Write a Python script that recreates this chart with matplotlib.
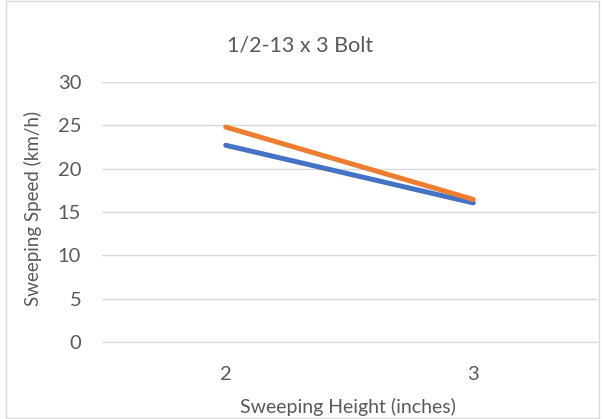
import matplotlib.pyplot as plt
from matplotlib.patches import Rectangle

plt.rcParams['font.family'] = ['Lato', 'DejaVu Sans']

heights = ['2', '3']
series_blue = [22.7, 16.05]
series_orange = [24.8, 16.45]
y_ticks = [0, 5, 10, 15, 20, 25, 30]

W, H = 605, 419
fig = plt.figure(figsize=(W / 100, H / 100), dpi=100)
ax = fig.add_axes([102 / W, 1 - 342 / H, 495 / W, 260 / H])

x = range(len(heights))
ax.plot(x, series_blue, color='#4472C4', lw=3.6, solid_capstyle='round')
ax.plot(x, series_orange, color='#ED7D31', lw=3.6, solid_capstyle='round')

ax.set_xlim(-0.5, 1.5)
ax.set_ylim(0, 30)
ax.set_xticks(list(x))
ax.set_xticklabels(heights)
ax.set_yticks(y_ticks)
ax.grid(axis='y', color='#D9D9D9', lw=1)
ax.set_axisbelow(True)
for s in ['top', 'right', 'left']:
    ax.spines[s].set_visible(False)
ax.spines['bottom'].set_color('#D9D9D9')
ax.tick_params(length=0, labelsize=14.5, colors='#595959')
ax.tick_params(axis='x', pad=17)
ax.tick_params(axis='y', pad=15)

txt = dict(color='#595959', ha='center', va='center')
fig.text(300 / W, 1 - 45 / H, '1/2-13 x 3 Bolt', fontsize=15.5, **txt)
fig.text(348 / W, 1 - 407 / H, 'Sweeping Height (inches)', fontsize=14, **txt)
fig.text(33 / W, 1 - 208 / H, 'Sweeping Speed (km/h)', fontsize=13.5,
         rotation=90, **txt)

# light frame around the whole chart
fig.patches.append(Rectangle((6 / W, 0.003), 1 - 12 / W, 0.994,
                             transform=fig.transFigure, fill=False,
                             edgecolor='#D9D9D9', lw=1))

fig.savefig('out.png', dpi=100)
